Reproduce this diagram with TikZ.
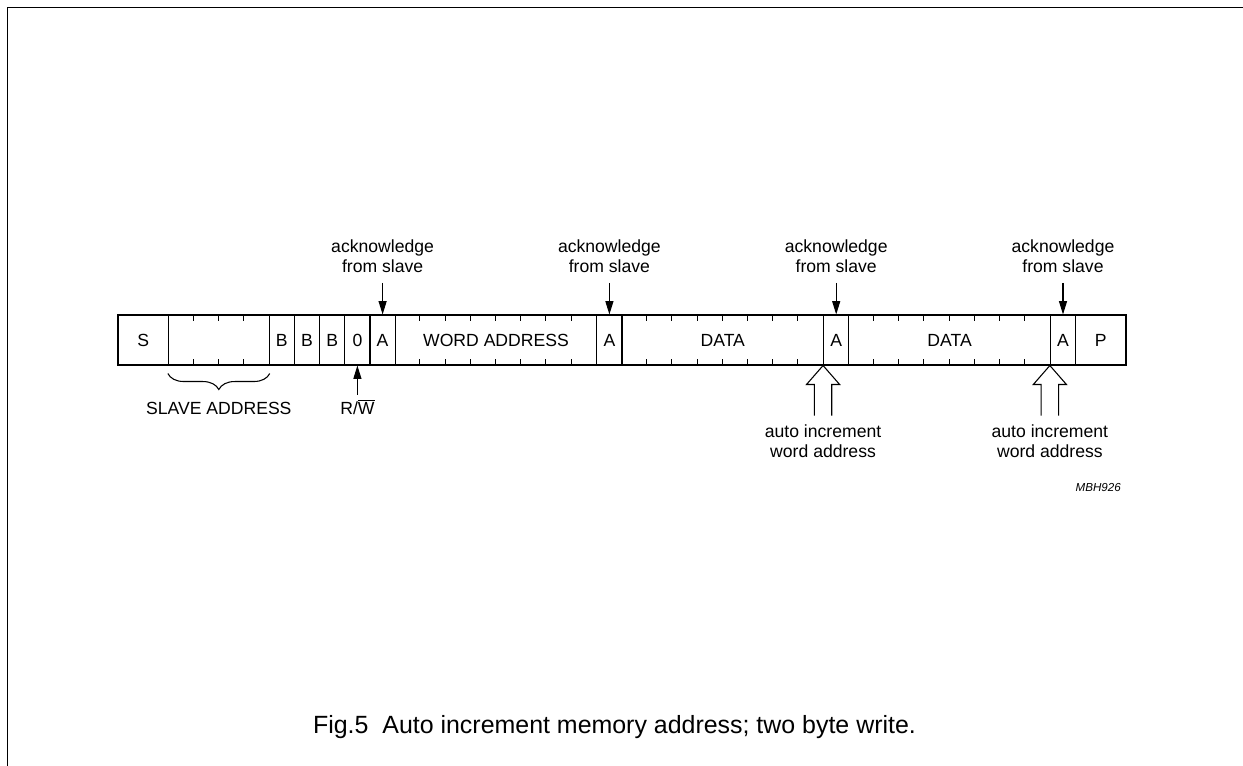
\documentclass[tikz,border=0pt]{standalone}
\usepackage{fontspec}
\setmainfont{Liberation Sans}
\usetikzlibrary{calc,arrows.meta,decorations.pathreplacing}
\begin{document}
\begin{tikzpicture}[x=0.75pt,y=-0.75pt,
  cell/.style={draw, line width=0.8pt, inner sep=0pt, minimum height=37.5pt, minimum width=#1*18.9pt, font=\fontsize{13.2}{15}\selectfont},
  lbl/.style={inner sep=0pt, align=center, font=\fontsize{13.2}{15}\selectfont},
  arr/.style={line width=0.8pt, -{Triangle[length=10pt,width=6pt]}},
  tick/.style={line width=0.8pt},
  hollow/.style={line width=0.8pt, line join=miter}
]
\useasboundingbox (0,0) rectangle (1243,766);
% frame
\draw[line width=1.1pt] (7.5,766) -- (7.5,7.5) -- (1243,7.5);

% cells
\node[cell=2] (S)  at (143.2,340) {S};
\node[cell=4] (SA) at (218.8,340) {};
\node[cell=1] (B1) at (281.8,340) {B};
\node[cell=1] (B2) at (307.0,340) {B};
\node[cell=1] (B3) at (332.2,340) {B};
\node[cell=1] (Z)  at (357.4,340) {0};
\node[cell=1] (A1) at (382.6,340) {A};
\node[cell=8] (WA) at (496.0,340) {WORD ADDRESS};
\node[cell=1] (A2) at (609.4,340) {A};
\node[cell=8] (D1) at (722.8,340) {DATA};
\node[cell=1] (A3) at (836.2,340) {A};
\node[cell=8] (D2) at (949.6,340) {DATA};
\node[cell=1] (A4) at (1063.0,340) {A};
\node[cell=2] (P)  at (1100.8,340) {P};

% ticks
\foreach \k in {1,2,3}{
  \draw[tick] ($(SA.north west)+(\k*25.2,0)$) -- ++(0,7);
  \draw[tick] ($(SA.south west)+(\k*25.2,0)$) -- ++(0,-7);
}
\foreach \f in {WA,D1,D2}{
  \foreach \k in {1,...,7}{
    \draw[tick] ($(\f.north west)+(\k*25.2,0)$) -- ++(0,7);
    \draw[tick] ($(\f.south west)+(\k*25.2,0)$) -- ++(0,-7);
  }
}

% acknowledge labels
\node[lbl, anchor=south] (ack1) at (382.6,273) {acknowledge\\from slave};
\node[lbl, anchor=south] (ack2) at (609.4,273) {acknowledge\\from slave};
\node[lbl, anchor=south] (ack3) at (836.2,273) {acknowledge\\from slave};
\node[lbl, anchor=south] (ack4) at (1063.0,273) {acknowledge\\from slave};
\draw[arr, shorten <=7.5pt] (ack1.south) -- (A1.north);
\draw[arr, shorten <=7.5pt] (ack2.south) -- (A2.north);
\draw[arr, shorten <=7.5pt] (ack3.south) -- (A3.north);
\draw[arr, shorten <=7.5pt] (ack4.south) -- (A4.north);

% slave address brace
\draw[line width=0.8pt, decorate, decoration={brace, mirror, amplitude=12pt}]
  ($(SA.south west)+(0,8)$) -- ($(SA.south east)+(0,8)$);
\node[lbl, anchor=base] (sal) at (218.8,414.6) {SLAVE ADDRESS};

% R/W
\node[lbl, anchor=base] (rw) at (357.4,414.6) {R/$\overline{\hbox{W}}$};
\draw[arr, shorten <=15pt] (rw.base) -- (Z.south);

% hollow arrows
\draw[hollow] ($(A3.south west)+(-8.7,50)$) -- ++(0,-31) -- ++(-7.9,0) -- (A3.south west) -- ++(16.6,19) -- ++(-7.9,0) -- ++(0,31);
\draw[hollow] ($(A4.south west)+(-8.7,50)$) -- ++(0,-31) -- ++(-7.9,0) -- (A4.south west) -- ++(16.6,19) -- ++(-7.9,0) -- ++(0,31);
\node[lbl, anchor=south] (inc1) at ($(A3.south west)+(0,92)$) {auto increment\\word address};
\node[lbl, anchor=south] (inc2) at ($(A4.south west)+(0,92)$) {auto increment\\word address};

% code
\node[inner sep=0pt, anchor=base east, font=\fontsize{8.7}{10}\selectfont\itshape] (code) at (1121,492) {MBH926};

% caption
\node[inner sep=0pt, anchor=base, font=\fontsize{18.7}{22}\selectfont] (cap) at (614.5,733) {Fig.5\ \ Auto increment memory address; two byte write.};
\end{tikzpicture}
\end{document}
